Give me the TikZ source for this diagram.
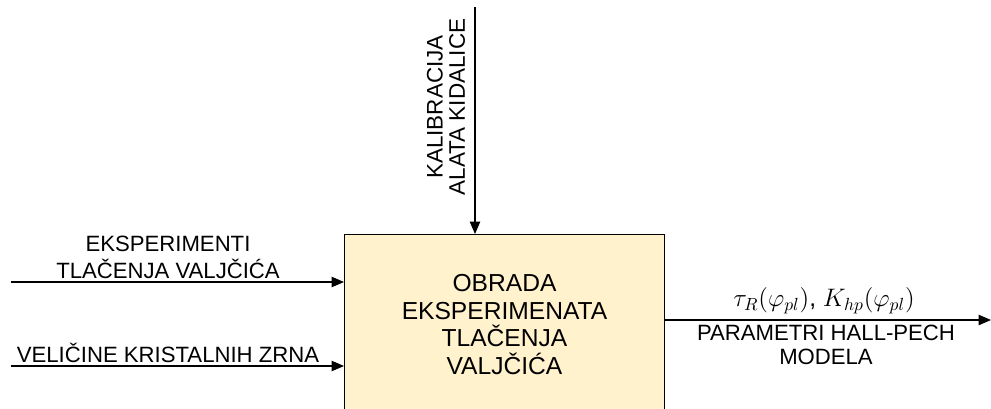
\documentclass[tikz,border=0pt]{standalone}
\usepackage{fontspec}
\setmainfont{Liberation Sans}
\usetikzlibrary{arrows.meta,positioning}
\definecolor{procfill}{HTML}{FFF2CC}
\begin{document}
\begin{tikzpicture}[x=0.02cm,y=-0.02cm,>={Triangle[length=0.25cm,width=0.21cm]},line width=0.6pt,
  lbl/.style={align=center,inner sep=0pt,font=\fontsize{12.6}{15.3}\selectfont}]
    \useasboundingbox (0,0) rectangle (991,409);
    \clip (0,0) rectangle (991,409);
    \node (proc) [draw, fill=procfill, anchor=north west, minimum width=6.4cm, minimum height=3.6cm, align=center, font=\fontsize{14}{15.8}\selectfont] at (344,234) {OBRADA\\EKSPERIMENATA\\TLAČENJA\\VALJČIĆA};

    \coordinate (in1) at (11,282);
    \coordinate (in2) at (11,366);
    \coordinate (ctl) at (475,7);
    \coordinate (out) at (991,320);

    \draw[->] (in1) -- (in1 -| proc.west);
    \draw[->] (in2) -- (in2 -| proc.west);
    \draw[->] (ctl) -- (ctl |- proc.north);
    \draw[->] (out -| proc.east) -- (out);

    \node (in1lbl) [lbl] at (168,257) {EKSPERIMENTI\\TLAČENJA VALJČIĆA};
    \node (in2lbl) [lbl] at (168,353) {VELIČINE KRISTALNIH ZRNA};
    \node (ctllbl) [lbl, rotate=90, font=\fontsize{12.8}{12.8}\selectfont] at (446,107) {KALIBRACIJA\\ALATA KIDALICE};
    \node (outmath) [lbl, font=\fontsize{14}{15}\selectfont] at (824,301) {$\tau_R(\varphi_{pl})$, $K_{hp}(\varphi_{pl})$};
    \node (outlbl) [lbl, font=\fontsize{12.6}{13.6}\selectfont] at (826,345) {PARAMETRI HALL-PECH\\MODELA};
\end{tikzpicture}
\end{document}
